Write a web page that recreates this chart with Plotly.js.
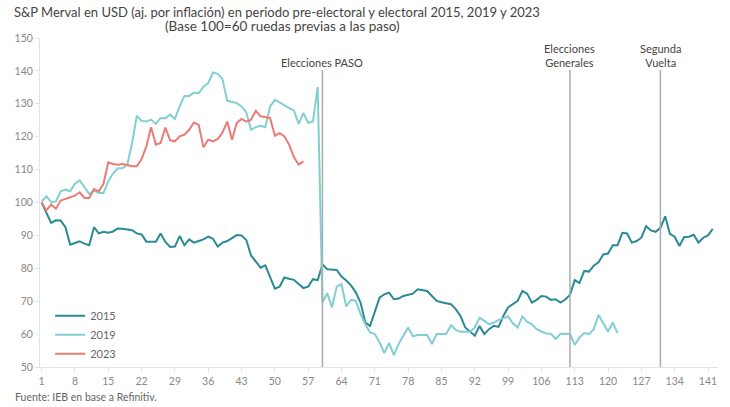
<!DOCTYPE html>
<html>
<head>
<meta charset="utf-8">
<script src="https://cdn.plot.ly/plotly-3.0.1.min.js"></script>
<style>html,body{margin:0;padding:0;background:#fff;}#chart{width:730px;height:407px;}</style>
</head>
<body>
<div id="chart"></div>
<script>
// Series values (index = rueda 1..N)
const v2015 = [100,97,93.8,94.6,94.5,92.5,87.2,87.7,88.2,87.5,87,92.5,90.6,91.1,90.8,91.2,92.1,92,91.8,91.6,
  90.6,90.3,88.1,88,88.1,90.6,88,86.5,86.6,89.8,87,88.8,87.8,88.3,88.8,89.6,89,86.6,87.8,88.3,
  89.2,90.1,90,88.6,83.9,82,80.2,80.9,77.2,73.8,74.4,77.2,76.8,76.5,75.2,74,74.4,76.7,76.4,81.2,
  79.7,79.6,79.5,77.5,76.3,74.8,72.7,69.6,63.5,62.5,66.6,71.1,72.1,72.6,70.6,70.8,71.6,71.9,72.3,73.6,
  73.3,73.1,71.6,70.1,69.7,69.4,69.1,67.6,65.5,62,60.8,59.5,62.5,60,61.5,62.5,62.2,65.5,68.1,69,
  70.1,73.1,72.3,69.6,70.4,71.6,71.4,70.4,70.6,69.6,70.5,71.9,76.4,75.5,79.2,79,80.8,81.8,84.2,84.5,
  87,87,90.8,90.6,87.8,88.3,89.3,92.8,91.5,91.1,92.3,95.8,90.5,89.6,86.8,89.5,89.6,90.2,87.8,89.3,
  90,92];
const v2019 = [100.3,101.9,100.1,100.3,103.4,103.9,103.4,105.7,106.7,104.5,102.6,103.6,102.9,102.9,106.5,108.8,110.4,110.4,111.5,118,
  126.4,124.8,124.6,125.2,123.9,125.7,125.6,126.7,125.4,129.2,132.4,132.4,133.4,133.2,135.2,136.3,139.5,139.1,137.5,130.9,
  130.5,130.2,129.2,127.4,122.1,122.9,123.3,122.9,129.2,131.2,130.4,129.5,128.7,128,123.9,127.2,124.2,124.6,135.1,69.6,
  72.4,68.1,74.4,75.2,68.4,70.4,70.1,66.1,63,60.5,60,57.5,54.2,57.3,53.6,57,59.5,62,59.3,59.7,
  59.7,59.7,57,60,60,60,62.7,61.3,60.7,60.7,60.7,62,65,64,63,63.5,64.3,64.8,65.4,63.3,
  62,65.4,63.7,63,61.5,60.8,60.2,60.1,58.5,60.1,60,60,56.7,59,60.3,60,61.5,65.8,63.3,60.8,
  63.5,60.3];
const v2023 = [100,97.6,99.4,98.1,100.6,101.1,101.4,102.1,103.1,101.4,101.4,104.1,103.4,105.7,112.2,111.7,111.5,111.7,111.4,111,
  111,113.2,117,122.9,117.6,118.1,122.8,118.9,118.6,120.1,120.6,122.1,124.3,123.6,116.8,119.1,118.6,119.3,121.3,124.6,
  119.1,124.2,125.4,124.6,125.2,127.9,126.2,126,125.7,120.3,121.1,120.1,117.6,113.8,111.5,112.5];

const seriesNames = ['2015','2019','2023'];
const seriesColors = ['#2a8a95','#82cfd3','#eb7b74'];
const seriesValues = [v2015, v2019, v2023];

// Events (rueda index) and labels
const eventX = [60, 112, 131];
const eventLabels = ['Elecciones PASO', 'Elecciones<br>Generales', 'Segunda<br>Vuelta'];

const titleText = 'S&P Merval en USD (aj. por inflación) en periodo pre-electoral y electoral 2015, 2019 y 2023';
const subtitleText = '(Base 100=60 ruedas previas a las paso)';
const sourceText = 'Fuente: IEB en base a Refinitiv.';

const font = 'Lato, Open Sans, sans-serif';

const traces = seriesValues.map((vals, k) => ({
  type: 'scatter', mode: 'lines', name: seriesNames[k],
  x: vals.map((_, i) => i + 1), y: vals,
  line: {color: seriesColors[k], width: 2},
  hoverinfo: 'x+y+name'
}));

const shapes = eventX.map(x => ({
  type: 'line', xref: 'x', yref: 'y', x0: x, x1: x, y0: 50, y1: 140.3,
  line: {color: '#ababab', width: 1.5}, layer: 'above'
}));

const annotations = eventX.map((x, k) => ({
  xref: 'x', yref: 'paper', x: x, y: 1.0, yanchor: 'bottom',
  yshift: -33, text: eventLabels[k], showarrow: false,
  font: {family: font, size: 11, color: '#444'}, align: 'center'
}));
annotations.push({
  xref: 'paper', yref: 'paper', x: 0.358, y: 1, yanchor: 'middle', xanchor: 'center',
  yshift: 12, text: subtitleText, showarrow: false,
  font: {family: font, size: 13.5, color: '#444'}
});
annotations.push({
  xref: 'paper', yref: 'paper', x: 0, y: 0, yanchor: 'middle', xanchor: 'left',
  xshift: -27, yshift: -30, text: sourceText, showarrow: false,
  font: {family: font, size: 10.5, color: '#666'}
});

const layout = {
  width: 730, height: 407,
  margin: {l: 40, r: 12, t: 38, b: 40},
  paper_bgcolor: '#fff', plot_bgcolor: '#fff',
  font: {family: font, color: '#888'},
  title: {text: titleText, x: 14/730, xanchor: 'left', xref: 'container', y: 1 - 12/407, yanchor: 'middle', yref: 'container',
          font: {family: font, size: 13, color: '#444'}},
  xaxis: {range: [0.66, 143.1], tick0: 1, dtick: 7, showgrid: false, zeroline: false,
          showline: true, linecolor: '#e3e3e3', linewidth: 1,
          ticks: 'outside', ticklen: 4, tickcolor: '#e3e3e3',
          tickfont: {family: font, size: 10.5, color: '#888'}},
  yaxis: {range: [50, 150], dtick: 10, showgrid: false, zeroline: false,
          showline: true, linecolor: '#e3e3e3', linewidth: 1,
          ticks: 'outside', ticklen: 4, tickcolor: '#e3e3e3',
          tickfont: {family: font, size: 10.5, color: '#888'}},
  showlegend: true,
  legend: {x: 0.015, y: 0.2, xanchor: 'left', yanchor: 'top', bgcolor: 'rgba(0,0,0,0)',
           font: {family: font, size: 11, color: '#666'}, itemwidth: 30, tracegroupgap: 0},
  shapes: shapes,
  annotations: annotations
};

Plotly.newPlot('chart', traces, layout, {displayModeBar: false, staticPlot: true});
</script>
</body>
</html>
